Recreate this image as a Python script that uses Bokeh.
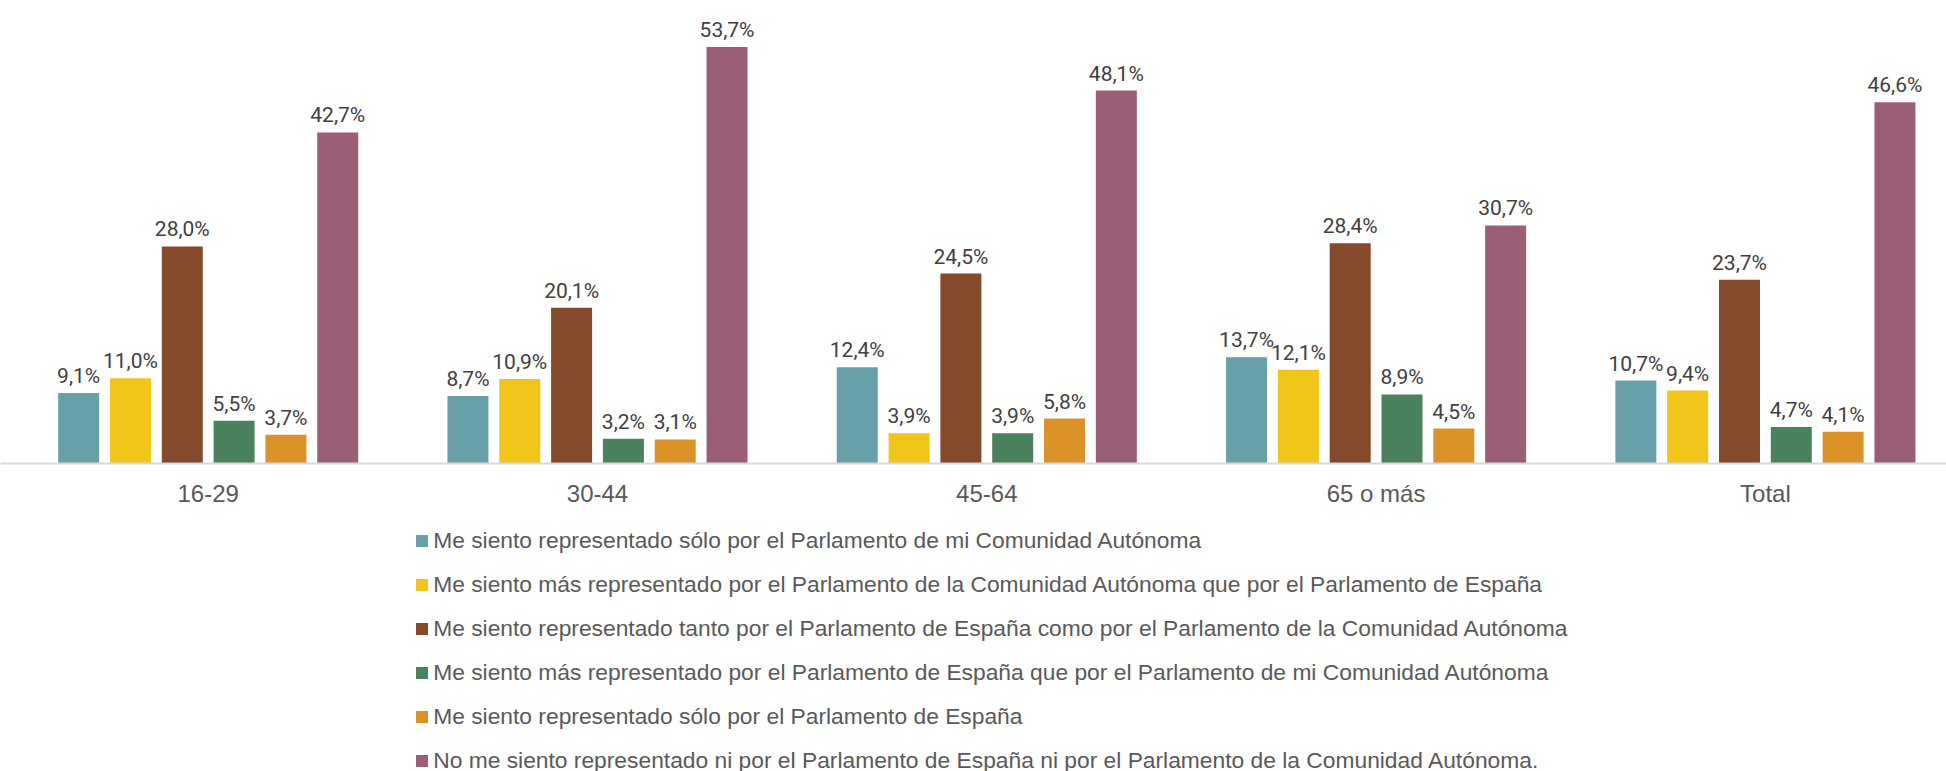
from bokeh.plotting import figure
from bokeh.layouts import column
from bokeh.models import Legend, LegendItem, FixedTicker, ColumnDataSource, Range1d
from bokeh.embed import file_html
from bokeh.resources import INLINE
from bokeh.core.properties import value

categories = ["16-29", "30-44", "45-64", "65 o más", "Total"]
series_names = [
    "Me siento representado sólo por el Parlamento de mi Comunidad Autónoma",
    "Me siento más representado por el Parlamento de la Comunidad Autónoma que por el Parlamento de España",
    "Me siento representado tanto por el Parlamento de España como por el Parlamento de la Comunidad Autónoma",
    "Me siento más representado por el Parlamento de España que por el Parlamento de mi Comunidad Autónoma",
    "Me siento representado sólo por el Parlamento de España",
    "No me siento representado ni por el Parlamento de España ni por el Parlamento de la Comunidad Autónoma.",
]
solo_ca = [9.1, 8.7, 12.4, 13.7, 10.7]
mas_ca = [11.0, 10.9, 3.9, 12.1, 9.4]
ambos = [28.0, 20.1, 24.5, 28.4, 23.7]
mas_esp = [5.5, 3.2, 3.9, 8.9, 4.7]
solo_esp = [3.7, 3.1, 5.8, 4.5, 4.1]
ninguno = [42.7, 53.7, 48.1, 30.7, 46.6]
series_values = [solo_ca, mas_ca, ambos, mas_esp, solo_esp, ninguno]
colors = ["#68A0A9", "#F1C51A", "#85492C", "#4A825D", "#DB9329", "#9B5E77"]

W = 1946
FRAME_H = 463
AXIS_H = 60
x_start = -0.5335
x_end = 4.4652
y_end = 59.71

p = figure(width=W, height=FRAME_H + AXIS_H, output_backend="svg",
           toolbar_location=None, x_range=Range1d(x_start, x_end),
           y_range=Range1d(0, y_end), y_axis_location=None,
           min_border_left=0, min_border_right=0, min_border_top=0,
           min_border_bottom=AXIS_H)
p.outline_line_color = None
p.xgrid.grid_line_color = None
p.ygrid.grid_line_color = None

pitch = 0.1331
bw = 0.1053
for j, (vals, col) in enumerate(zip(series_values, colors)):
    off = (j - 2.5) * pitch
    src = ColumnDataSource(dict(
        x=[i + off for i in range(len(categories))],
        top=vals,
        lab=[("%.1f%%" % v).replace(".", ",") for v in vals],
    ))
    p.vbar(x="x", top="top", bottom=0, width=bw, source=src,
           fill_color=col, line_color=None)
    p.text(x="x", y="top", text="lab", source=src, text_align="center",
           text_baseline="alphabetic", y_offset=-17,
           text_font=value("Roboto"), text_font_size="21px",
           text_color="#404040")

ax = p.xaxis[0]
ax.ticker = FixedTicker(ticks=list(range(len(categories))))
ax.major_label_overrides = {i: c for i, c in enumerate(categories)}
ax.axis_line_color = "#D9D9D9"
ax.axis_line_width = 2
ax.major_tick_line_color = None
ax.minor_tick_line_color = None
ax.major_label_text_font = "Liberation Sans"
ax.major_label_text_font_size = "24px"
ax.major_label_text_color = "#595959"
ax.major_label_standoff = 10

# legend panel
LEG_FIG_H = 300
LEG_ROW_H = 26
LEG_SPACING = 17
top_offset = FRAME_H + AXIS_H
leg_h = 6 * LEG_ROW_H + 5 * LEG_SPACING
leg_top = 546.3 - top_offset - LEG_ROW_H / 2

pl = figure(width=W, height=LEG_FIG_H, output_backend="svg",
            toolbar_location=None, x_range=Range1d(0, 1), y_range=Range1d(0, 1),
            x_axis_location=None, y_axis_location=None,
            min_border_left=0, min_border_right=0, min_border_top=0,
            min_border_bottom=0)
pl.outline_line_color = None
pl.xgrid.grid_line_color = None
pl.ygrid.grid_line_color = None
items = []
for name, col in zip(series_names, colors):
    # zero-height proxy bar: only its style is used, for the legend swatch
    r = pl.vbar(x=[0.5], top=[0], bottom=0, width=0.01, fill_color=col,
                line_color=None)
    items.append(LegendItem(label=name, renderers=[r]))

legend = Legend(items=items, location=(414.2, LEG_FIG_H - (leg_top + leg_h)),
                orientation="vertical",
                label_text_font="Liberation Sans", label_text_font_size="22.8px",
                label_text_color="#595959", glyph_width=15, glyph_height=15,
                label_standoff=4, label_height=LEG_ROW_H, spacing=LEG_SPACING,
                padding=0, margin=0, border_line_color=None,
                background_fill_alpha=0)
pl.add_layout(legend, "center")

layout = column(p, pl, spacing=0)
open("out.html", "w").write(file_html(layout, INLINE))
